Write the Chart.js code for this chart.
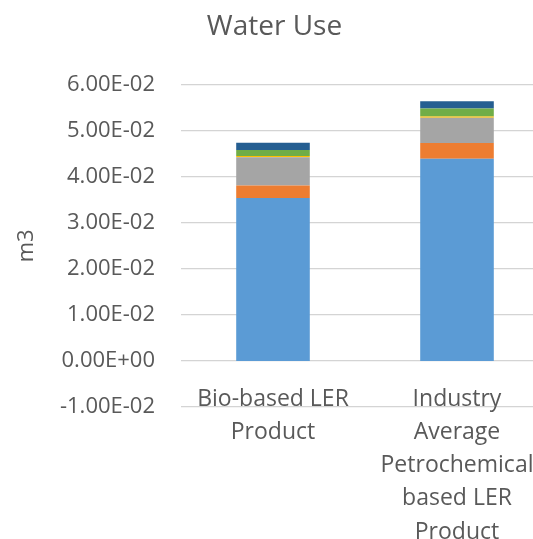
<!DOCTYPE html>
<html>
<head>
<meta charset="utf-8">
<script src="https://cdn.jsdelivr.net/npm/chart.js@4"></script>
<style>
  html, body { margin: 0; padding: 0; background: #ffffff; overflow: hidden; }
  #wrap { position: relative; width: 560px; height: 539px; }
</style>
</head>
<body>
<div id="wrap"><canvas id="c" width="560" height="539"></canvas></div>
<script>
const categories = [["Bio-based LER", "Product"], ["Industry", "Average", "Petrochemical", "based LER", "Product"]];
const seriesNames = ["Series 1", "Series 2", "Series 3", "Series 4", "Series 5", "Series 6"];
const series1 = [0.0354, 0.0439];
const series2 = [0.0027, 0.0034];
const series3 = [0.0061, 0.0055];
const series4 = [0.0003, 0.0003];
const series5 = [0.0013, 0.0017];
const series6 = [0.0016, 0.0016];
const yMin = -0.01, yMax = 0.06, yStep = 0.01;

const colors = ["#5b9bd5", "#ed7d31", "#a5a5a5", "#ffc000", "#70ad47", "#255e91"];
const allSeries = [series1, series2, series3, series4, series5, series6];

function fmtExp(v) {
  if (Math.abs(v) < 1e-12) return "0.00E+00";
  let e = Math.floor(Math.log10(Math.abs(v)) + 1e-9);
  let m = v / Math.pow(10, e);
  let ms = m.toFixed(2);
  if (Math.abs(parseFloat(ms)) >= 10) { e += 1; ms = (v / Math.pow(10, e)).toFixed(2); }
  const sign = e < 0 ? "-" : "+";
  const ea = Math.abs(e);
  return ms + "E" + sign + (ea < 10 ? "0" + ea : "" + ea);
}

const FONT = "'Open Sans', 'Liberation Sans', sans-serif";
const TXT = "#595959";

new Chart(document.getElementById("c"), {
  type: "bar",
  data: {
    labels: categories,
    datasets: allSeries.map((d, i) => ({
      label: seriesNames[i],
      data: d,
      backgroundColor: colors[i],
      borderWidth: 0,
      categoryPercentage: 1.0,
      barPercentage: 0.4
    }))
  },
  options: {
    responsive: false,
    animation: false,
    layout: { padding: { left: 0, right: 11, top: 0, bottom: 132 } },
    plugins: {
      legend: { display: false },
      tooltip: { enabled: false },
      title: {
        display: true,
        text: "Water Use",
        color: TXT,
        font: { family: FONT, size: 28, weight: "normal", lineHeight: 1.2 },
        padding: { top: 10, bottom: 41 }
      }
    },
    scales: {
      x: {
        stacked: true,
        position: { y: 0 },
        grid: { display: false, drawTicks: false },
        border: { display: false },
        ticks: {
          color: TXT,
          padding: 22,
          maxRotation: 0,
          autoSkip: false,
          font: { family: FONT, size: 23, lineHeight: 1.44 }
        }
      },
      y: {
        stacked: true,
        min: yMin,
        max: yMax,
        afterFit: (s) => { s.width = 181; },
        grid: { color: "#d4d4d4", lineWidth: 1.3, drawTicks: false },
        border: { display: false },
        ticks: {
          stepSize: yStep,
          color: TXT,
          padding: 26,
          font: { family: FONT, size: 22 },
          callback: (v) => fmtExp(v)
        },
        title: {
          display: true,
          text: "m3",
          color: TXT,
          font: { family: FONT, size: 22 },
          padding: { top: 14, bottom: 0 }
        }
      }
    }
  }
});
</script>
</body>
</html>
